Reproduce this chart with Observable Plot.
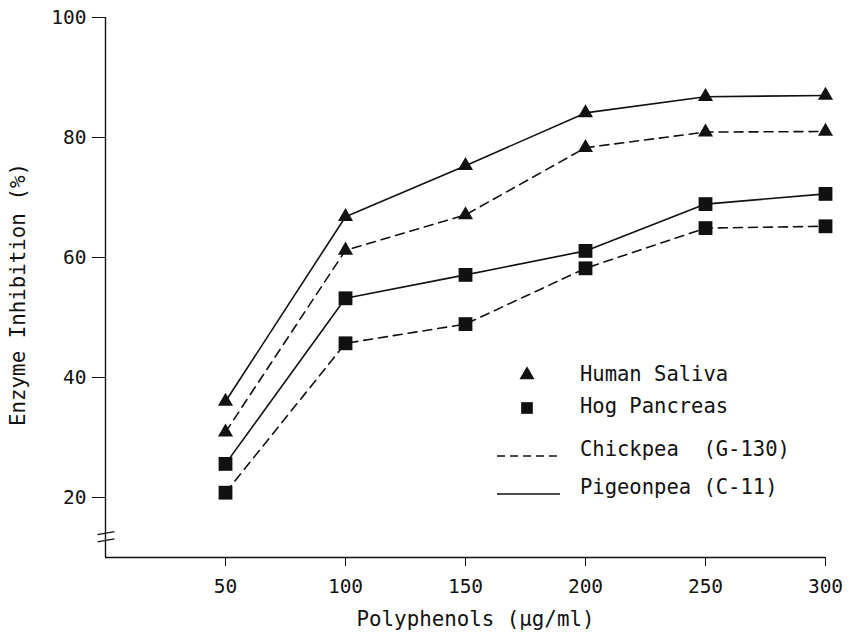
<!DOCTYPE html>
<html>
<head>
<meta charset="utf-8">
<script src="https://cdn.jsdelivr.net/npm/d3@7"></script>
<script src="https://cdn.jsdelivr.net/npm/@observablehq/plot@0.6"></script>
<style>
  html, body { margin: 0; padding: 0; background: #fff; }
  #wrap { position: relative; width: 849px; height: 640px; }
  #legend { position: absolute; left: 0; top: 0; }
  #legend text { font-family: "DejaVu Sans Mono", monospace; font-size: 20.5px; fill: #111; white-space: pre; }
</style>
</head>
<body>
<div id="wrap"></div>
<script>
// ---- data ----
const doses = [50, 100, 150, 200, 250, 300];
const salivaPigeonpea   = [36.0, 66.8, 75.3, 84.1, 86.8, 87.0];
const salivaChickpea    = [30.9, 61.2, 67.1, 78.3, 80.9, 81.0];
const pancreasPigeonpea = [25.6, 53.2, 57.1, 61.1, 68.9, 70.6];
const pancreasChickpea  = [20.8, 45.7, 48.9, 58.2, 64.9, 65.2];
const yTicks = [20, 40, 60, 80, 100];
const xTicks = [50, 100, 150, 200, 250, 300];
const xLabel = "Polyphenols (μg/ml)";
const yLabel = "Enzyme Inhibition (%)";
const legendItems = ["Human Saliva", "Hog Pancreas", "Chickpea  (G-130)", "Pigeonpea (C-11)"];
const axisBreakAt = 13.8;

const toRows = (vals) => doses.map((d, i) => ({x: d, y: vals[i]}));
const sP = toRows(salivaPigeonpea), sC = toRows(salivaChickpea);
const pP = toRows(pancreasPigeonpea), pC = toRows(pancreasChickpea);

const font = "DejaVu Sans Mono, monospace";
const dash = "9,6";

const chart = Plot.plot({
  width: 849,
  height: 640,
  marginLeft: 105,
  marginRight: 24,
  marginTop: 17,
  marginBottom: 83,
  style: {fontFamily: font, fontSize: "19px", color: "#111", background: "white"},
  x: {domain: [0, 300], ticks: xTicks, label: null},
  y: {domain: [10, 100], ticks: yTicks, label: null},
  marks: [
    Plot.axisY(yTicks, {tickSize: 13, tickPadding: 6, fontSize: 19.5, label: null}),
    Plot.axisX(xTicks, {tickSize: 9, tickPadding: 13, fontSize: 19.5, label: null}),
    Plot.ruleX([0], {y1: 10, y2: 100, stroke: "#111", strokeWidth: 1.4}),
    Plot.ruleY([10], {x1: 0, x2: 300, stroke: "#111", strokeWidth: 1.4}),
    // axis break marks
    Plot.link([axisBreakAt, axisBreakAt - 1.2], {
      x1: 0, x2: 0, y1: d => d, y2: d => d + 0.5,
      stroke: "#111", strokeWidth: 1.3,
      render: (index, scales, values, dims, ctx, next) => {
        const g = next(index, scales, values, dims, ctx);
        d3.select(g).selectAll("path").attr("d", function(_, j) {
          const i = index[j];
          const x = values.x1[i], ya = values.y1[i], yb = values.y2[i];
          return `M${x - 8},${ya}L${x + 9},${yb}`;
        });
        return g;
      }
    }),
    Plot.line(sP, {x: "x", y: "y", stroke: "#111", strokeWidth: 1.6}),
    Plot.line(sC, {x: "x", y: "y", stroke: "#111", strokeWidth: 1.6, strokeDasharray: dash}),
    Plot.line(pP, {x: "x", y: "y", stroke: "#111", strokeWidth: 1.6}),
    Plot.line(pC, {x: "x", y: "y", stroke: "#111", strokeWidth: 1.6, strokeDasharray: dash}),
    Plot.dot(sP.concat(sC), {x: "x", y: "y", symbol: "triangle", r: 5.6, fill: "#111", stroke: "none"}),
    Plot.dot(pP.concat(pC), {x: "x", y: "y", symbol: "square", r: 7.8, fill: "#111", stroke: "none"}),
    Plot.text([xLabel], {frameAnchor: "bottom", dy: 68, dx: 10, fontSize: 20.8, fill: "#111", textAnchor: "middle"}),
    Plot.text([yLabel], {frameAnchor: "left", dx: -87, dy: 7, rotate: -90, fontSize: 20.8, fill: "#111", textAnchor: "middle"})
  ]
});

const wrap = document.getElementById("wrap");
wrap.appendChild(chart);

// ---- legend overlay ----
const ns = "http://www.w3.org/2000/svg";
const leg = document.createElementNS(ns, "svg");
leg.setAttribute("id", "legend");
leg.setAttribute("width", 849);
leg.setAttribute("height", 640);
const rowsY = [374, 406, 449, 487];
const textX = 580;
const sym = d3.symbol();
legendItems.forEach((label, i) => {
  const y = rowsY[i];
  if (i === 0) {
    const p = document.createElementNS(ns, "path");
    p.setAttribute("d", sym.type(d3.symbolTriangle).size(Math.PI * 5.6 * 5.6)());
    p.setAttribute("transform", `translate(527,${y + 1})`);
    p.setAttribute("fill", "#111");
    leg.appendChild(p);
  } else if (i === 1) {
    const p = document.createElementNS(ns, "path");
    p.setAttribute("d", sym.type(d3.symbolSquare).size(Math.PI * 6.6 * 6.6)());
    p.setAttribute("transform", `translate(527,${y + 2})`);
    p.setAttribute("fill", "#111");
    leg.appendChild(p);
  } else {
    const l = document.createElementNS(ns, "line");
    l.setAttribute("x1", 497); l.setAttribute("x2", 560);
    l.setAttribute("y1", y + 7); l.setAttribute("y2", y + 7);
    l.setAttribute("stroke", "#111");
    l.setAttribute("stroke-width", 1.6);
    if (i === 2) l.setAttribute("stroke-dasharray", "8,5");
    leg.appendChild(l);
  }
  const t = document.createElementNS(ns, "text");
  t.setAttribute("x", textX);
  t.setAttribute("y", y);
  t.setAttribute("dy", "0.35em");
  t.setAttribute("xml:space", "preserve");
  t.textContent = label;
  leg.appendChild(t);
});
wrap.appendChild(leg);
</script>
</body>
</html>
